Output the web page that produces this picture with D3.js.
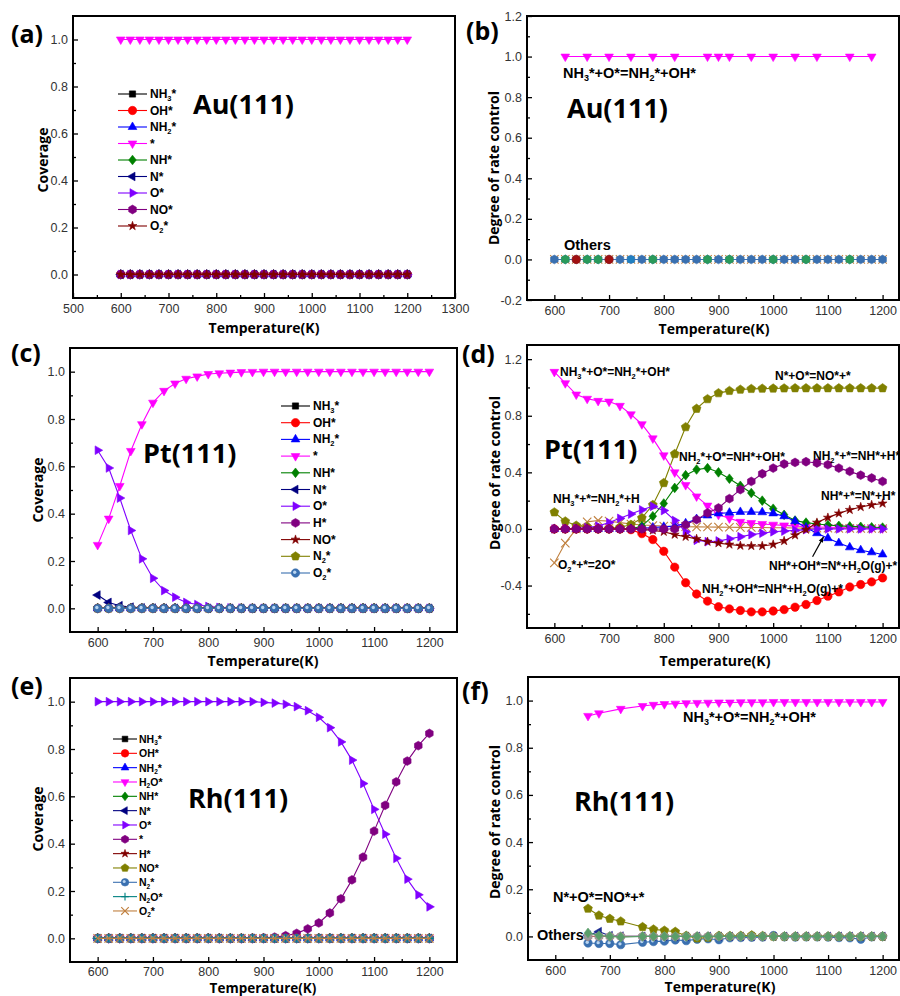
<!DOCTYPE html>
<html><head><meta charset="utf-8">
<script src="https://cdn.jsdelivr.net/npm/d3@7"></script>
<style>body{margin:0;background:#fff}svg{display:block}</style>
</head><body>
<svg id="c" width="900" height="996"></svg>
<script>
// ---------- DATA ----------
const T = [600,620,640,660,680,700,720,740,760,780,800,820,840,860,880,900,920,940,960,980,1000,1020,1040,1060,1080,1100,1120,1140,1160,1180,1200];
const ZERO = [0,0,0,0,0,0,0,0,0,0,0,0,0,0,0,0,0,0,0,0,0,0,0,0,0,0,0,0,0,0,0];
const ONE  = [1,1,1,1,1,1,1,1,1,1,1,1,1,1,1,1,1,1,1,1,1,1,1,1,1,1,1,1,1,1,1];

// (a) Au(111) coverage
const a_free = ONE;

// (b) Au(111) DRC
const b_mainT = [620,660,700,740,780,820,880,900,920,960,1000,1040,1080,1140,1180];
const b_main  = [1,1,1,1,1,1,1,1,1,1,1,1,1,1,1];
const b_greenT = [620,660,680,780,880,920,1000,1060,1140];
const b_green  = [0,0,0,0,0,0,0,0,0];
const b_redT = [640,700];
const b_red  = [0,0];
const b_blueT = [740];
const b_blue  = [0];

// (c) Pt(111) coverage
const c_free = [0.268,0.379,0.517,0.665,0.778,0.869,0.919,0.95,0.97,0.98,0.99,0.993,0.996,0.998,0.999,1,1,1,1,1,1,1,1,1,1,1,1,1,1,1,1];
const c_O    = [0.668,0.593,0.466,0.329,0.209,0.127,0.075,0.047,0.025,0.016,0.008,0.004,0.002,0.001,0,0,0,0,0,0,0,0,0,0,0,0,0,0,0,0,0];
const c_N    = [0.056,0.025,0.011,0.005,0.002,0.001,0,0,0,0,0,0,0,0,0,0,0,0,0,0,0,0,0,0,0,0,0,0,0,0,0];

// (d) Pt(111) DRC
const d_NH3_O   = [1.11,1.03,0.95,0.92,0.905,0.90,0.87,0.81,0.74,0.64,0.52,0.40,0.31,0.23,0.165,0.10,0.075,0.05,0.042,0.035,0.03,0.025,0.02,0.017,0.014,0.012,0.01,0.008,0.006,0.005,0.004];
const d_N_O     = [0.118,0.054,0.024,0.014,0.006,0.005,0.012,0.03,0.078,0.17,0.325,0.53,0.72,0.85,0.918,0.96,0.976,0.985,0.99,0.992,0.993,0.994,0.995,0.995,0.995,0.995,0.995,0.995,0.995,0.995,0.995];
const d_NH2_O   = [0,0,0,0,0,0,0,0,0.02,0.09,0.18,0.29,0.38,0.42,0.43,0.40,0.355,0.305,0.254,0.2,0.143,0.1,0.06,0.045,0.035,0.028,0.022,0.018,0.015,0.012,0.01];
const d_NH2_f   = [0,0,0,0,0,0,0,0,0,0,0,0,0.03,0.066,0.113,0.148,0.214,0.278,0.336,0.39,0.43,0.459,0.47,0.475,0.466,0.454,0.43,0.407,0.38,0.36,0.336];
const d_NH_OH   = [0,0,0,0,0,0,0,0,0.005,0.01,0.015,0.02,0.04,0.07,0.095,0.11,0.115,0.12,0.12,0.118,0.11,0.09,0.055,0.01,-0.03,-0.065,-0.1,-0.13,-0.15,-0.165,-0.18];
const d_NH3_f   = [0,0.002,0.005,0.01,0.02,0.045,0.075,0.105,0.135,0.16,0.13,0.06,-0.02,-0.08,-0.09,-0.085,-0.07,-0.055,-0.04,-0.03,-0.02,-0.015,-0.01,-0.005,0,0,0,0,0,0,0];
const d_NH_f    = [0,0,0,0,0,0,0,0,-0.003,-0.01,-0.02,-0.04,-0.055,-0.07,-0.09,-0.1,-0.11,-0.118,-0.12,-0.12,-0.11,-0.085,-0.045,-0.005,0.045,0.08,0.11,0.135,0.155,0.17,0.18];
const d_NH2_OH  = [0,0,0,0,0,0,0,-0.005,-0.033,-0.075,-0.158,-0.27,-0.38,-0.46,-0.51,-0.55,-0.565,-0.576,-0.586,-0.586,-0.58,-0.57,-0.553,-0.534,-0.506,-0.475,-0.445,-0.41,-0.393,-0.374,-0.346];
const d_O2_f    = [-0.24,-0.1,0.0,0.05,0.06,0.055,0.045,0.035,0.028,0.024,0.02,0.018,0.016,0.015,0.014,0.013,0.012,0.011,0.01,0.01,0.009,0.008,0.007,0.006,0.005,0.005,0.004,0.004,0.003,0.003,0.003];

// (e) Rh(111) coverage
const e_O    = [1,1,1,1,1,1,1,1,1,1,1,1,1,1,1,0.997,0.994,0.989,0.979,0.962,0.934,0.89,0.83,0.753,0.654,0.545,0.44,0.338,0.25,0.184,0.133];
const e_free = [0,0,0,0,0,0,0,0,0,0,0,0,0,0,0.001,0.002,0.005,0.011,0.021,0.04,0.065,0.107,0.167,0.247,0.343,0.453,0.562,0.661,0.749,0.814,0.866];

// (f) Rh(111) DRC
const f_T1 = [660,680,720,760,780,800,820,840,860,880,900,920,940,960,980,1000,1020,1040,1060,1080,1100,1120,1140,1160,1180,1200];
const f_main = [0.935,0.946,0.965,0.977,0.982,0.985,0.987,0.989,0.99,0.991,0.992,0.992,0.993,0.993,0.993,0.994,0.994,0.994,0.994,0.994,0.994,0.994,0.994,0.994,0.994,0.994];
const f_T2 = [660,680,700,720,760,780,800,820,840,860,880,900,920,940,960,980,1000,1020,1040,1060,1080,1100,1120,1140,1160,1180,1200];
const f_NO    = [0.118,0.089,0.075,0.064,0.04,0.03,0.025,0.02,0.003,-0.008,-0.005,0.003,0.002,0.003,0.005,0.002,0,0,0,0,0,0,0,0,0,0,0];
const f_steel = [-0.028,-0.03,-0.03,-0.035,-0.025,-0.022,-0.02,-0.015,-0.018,-0.012,-0.01,-0.014,-0.006,-0.005,-0.004,-0.003,0.004,-0.002,-0.003,-0.002,-0.002,-0.003,-0.005,-0.006,-0.012,-0.002,0];
const f_navy  = [0.005,0.02,0.003,0.001,0,0,0,0,0,0,0,0,0,0,0,0,0,0,0,0,0,0,0,0,0,0,0];
const f_green = [0.015,0.004,0,-0.003,0,0,0,0,0,0,0,0,0,0,0,0,0,0,0,0,0,0,0,0,0,0,0];
const f_zero  = [0,0,0,0,0,0,0,0,0,0,0,0,0,0,0,0,0,0,0,0,0,0,0,0,0,0,0];

// tick values
const ticksX_a = [500,600,700,800,900,1000,1100,1200,1300];
const ticksX_aMinor = [550,650,750,850,950,1050,1150,1250];
const ticksX = [600,700,800,900,1000,1100,1200];
const ticksX_minor = [650,750,850,950,1050,1150];
const ticksY_cov = [0,0.2,0.4,0.6,0.8,1.0];
const ticksY_covMinor = [0.1,0.3,0.5,0.7,0.9];
const ticksY_b = [-0.2,0,0.2,0.4,0.6,0.8,1.0,1.2];
const ticksY_bMinor = [-0.1,0.1,0.3,0.5,0.7,0.9,1.1];
const ticksY_d = [-0.4,0,0.4,0.8,1.2];
const ticksY_dMinor = [-0.6,-0.2,0.2,0.6,1.0];

// ---------- STYLE ----------
const C = {black:'#000000', red:'#ff0000', blue:'#0000ff', mag:'#ff00ff', green:'#008000', navy:'#000080',
  violet:'#8000ff', purple:'#800080', wine:'#800000', olive:'#808000', steel:'#3a70b0', teal:'#008080', brown:'#c0803f'};
const FT = "'Liberation Sans', Arial, sans-serif";
const FO = "'Open Sans', sans-serif";

const svg = d3.select('#c');

function poly(n, r, rot){
  const p=[]; for(let i=0;i<n;i++){const a=rot+2*Math.PI*i/n; p.push([r*Math.cos(a), r*Math.sin(a)]);}
  return 'M'+p.map(q=>q[0].toFixed(2)+','+q[1].toFixed(2)).join('L')+'Z';
}
function markerPath(type, s){
  switch(type){
    case 'square': return poly(4, s*1.05, Math.PI/4);
    case 'circle': case 'sphere': return d3.symbol(d3.symbolCircle, Math.PI*s*s)();
    case 'up': return poly(3, s*1.2, -Math.PI/2);
    case 'down': return poly(3, s*1.2, Math.PI/2);
    case 'left': return poly(3, s*1.2, Math.PI);
    case 'right': return poly(3, s*1.2, 0);
    case 'diamond': return `M0,${-s*1.15}L${s*0.9},0L0,${s*1.15}L${-s*0.9},0Z`;
    case 'hex': return poly(6, s*1.05, -Math.PI/2);
    case 'pent': return poly(5, s*1.1, -Math.PI/2);
    case 'star': return d3.symbol(d3.symbolStar, s*s*1.4)();
    case 'plus': return `M${-s},0H${s}M0,${-s}V${s}`;
    case 'cross': return `M${-s},${-s}L${s},${s}M${-s},${s}L${s},${-s}`;
  }
}
function drawMarker(g, type, color, cx, cy, s){
  const stroke = (type==='plus'||type==='cross');
  g.append('path').attr('d', markerPath(type,s)).attr('transform',`translate(${cx},${cy})`)
    .attr('fill', stroke?'none':color).attr('stroke', color).attr('stroke-width', stroke?1.1:0.6);
  if(type==='sphere'){
    g.append('circle').attr('cx',cx-0.8).attr('cy',cy-0.8).attr('r',s*0.4).attr('fill','#b8d4f0');
  }
}
function rich(g, str, x, y, size, family, anchor){
  const t = g.append('text').attr('x',x).attr('y',y).attr('font-size',size).attr('font-weight','bold')
    .attr('font-family',family).attr('fill','#000').attr('dominant-baseline','central');
  if(anchor) t.attr('text-anchor',anchor);
  let buf=''; const parts=[];
  for(let i=0;i<str.length;i++){
    if(str[i]==='_'){ if(buf) parts.push([buf,false]); buf=''; parts.push([str[i+1],true]); i++; }
    else buf+=str[i];
  }
  if(buf) parts.push([buf,false]);
  const sh = size*0.32;
  let down=false;
  parts.forEach(([s,isSub])=>{
    const ts = t.append('tspan').text(s);
    if(isSub){ ts.attr('font-size',size*0.62).attr('dy', sh); down=true; }
    else if(down){ ts.attr('dy', -sh); down=false; }
  });
  return t;
}

function panel(cfg){
  const x = d3.scaleLinear().domain(cfg.xd).range([cfg.l, cfg.r]);
  const y = d3.scaleLinear().domain(cfg.yd).range([cfg.b, cfg.t]);
  const g = svg.append('g');
  const styleAxis = sel => {
    sel.select('.domain').remove();
    sel.selectAll('.tick line').attr('stroke','#000').attr('stroke-width',1.3);
    sel.selectAll('.tick text').attr('font-family',FT).attr('font-size',12.5).attr('fill','#333');
  };
  g.append('g').attr('transform',`translate(0,${cfg.b})`)
    .call(d3.axisBottom(x).tickValues(cfg.xMaj).tickSize(-5).tickSizeOuter(0).tickPadding(cfg.xpad||6.5).tickFormat(d3.format('d'))).call(styleAxis);
  g.append('g').attr('transform',`translate(0,${cfg.b})`)
    .call(d3.axisBottom(x).tickValues(cfg.xMin).tickSize(-3).tickSizeOuter(0).tickFormat('')).call(styleAxis);
  g.append('g').attr('transform',`translate(${cfg.l},0)`)
    .call(d3.axisLeft(y).tickValues(cfg.yMaj).tickSize(-5).tickSizeOuter(0).tickPadding(5).tickFormat(d=>d.toFixed(1))).call(styleAxis);
  g.append('g').attr('transform',`translate(${cfg.l},0)`)
    .call(d3.axisLeft(y).tickValues(cfg.yMin).tickSize(-3).tickSizeOuter(0).tickFormat('')).call(styleAxis);
  g.append('rect').attr('x',cfg.l).attr('y',cfg.t).attr('width',cfg.r-cfg.l).attr('height',cfg.b-cfg.t)
    .attr('fill','none').attr('stroke','#000').attr('stroke-width',2);

  const line = d3.line().x(d=>x(d[0])).y(d=>y(d[1]));
  cfg.series.forEach(s=>{
    const pts = s.x.map((v,i)=>[v, s.y[i]]);
    if(s.line!==false) g.append('path').attr('d', line(pts)).attr('fill','none').attr('stroke', s.c).attr('stroke-width',1.1);
    const mg = g.append('g');
    pts.forEach(p=>drawMarker(mg, s.m, s.c, x(p[0]), y(p[1]), s.s||4.2));
  });

  if(cfg.legend){
    const L = cfg.legend;
    L.items.forEach((it,i)=>{
      const yy = L.y0 + i*L.dy;
      g.append('line').attr('x1',L.x1).attr('x2',L.x2).attr('y1',yy).attr('y2',yy).attr('stroke',it.c).attr('stroke-width',1.1);
      drawMarker(g, it.m, it.c, (L.x1+L.x2)/2, yy, L.ms);
      rich(g, it.t, L.tx, yy, L.fs, FT);
    });
  }
  (cfg.labels||[]).forEach(lb=> rich(g, lb.t, lb.x, lb.y, lb.fs, lb.f||FT, lb.a));
  // axis titles
  g.append('text').attr('transform',`translate(${cfg.ytx},${cfg.yty}) rotate(-90)`).attr('text-anchor','middle')
    .attr('dominant-baseline','central').attr('font-family',FO).attr('font-weight','bold').attr('font-size',14).text(cfg.ytitle);
  g.append('text').attr('x',cfg.xtx).attr('y',cfg.xty).attr('text-anchor','middle')
    .attr('dominant-baseline','central').attr('font-family',FO).attr('font-weight','bold').attr('font-size',cfg.xfs||14).text('Temperature(K)');
  if(cfg.arrow){
    const A = cfg.arrow;
    const x1=x(A[0]), y1=y(A[1]), x2=x(A[2]), y2=y(A[3]);
    const ang=Math.atan2(y2-y1,x2-x1), h=6;
    g.append('line').attr('x1',x1).attr('y1',y1).attr('x2',x2).attr('y2',y2).attr('stroke','#000').attr('stroke-width',1.2);
    g.append('path').attr('d',`M${x2},${y2}L${x2-h*Math.cos(ang-0.4)},${y2-h*Math.sin(ang-0.4)}L${x2-h*Math.cos(ang+0.4)},${y2-h*Math.sin(ang+0.4)}Z`).attr('fill','#000');
  }
}

const covLegendA = [
  {t:'NH_3*',c:C.black,m:'square'},{t:'OH*',c:C.red,m:'circle'},{t:'NH_2*',c:C.blue,m:'up'},{t:'*',c:C.mag,m:'down'},
  {t:'NH*',c:C.green,m:'diamond'},{t:'N*',c:C.navy,m:'left'},{t:'O*',c:C.violet,m:'right'},{t:'NO*',c:C.purple,m:'hex'},{t:'O_2*',c:C.wine,m:'star'}];
const covLegendC = [
  {t:'NH_3*',c:C.black,m:'square'},{t:'OH*',c:C.red,m:'circle'},{t:'NH_2*',c:C.blue,m:'up'},{t:'*',c:C.mag,m:'down'},
  {t:'NH*',c:C.green,m:'diamond'},{t:'N*',c:C.navy,m:'left'},{t:'O*',c:C.violet,m:'right'},{t:'H*',c:C.purple,m:'hex'},
  {t:'NO*',c:C.wine,m:'star'},{t:'N_2*',c:C.olive,m:'pent'},{t:'O_2*',c:C.steel,m:'sphere'}];
const covLegendE = [
  {t:'NH_3*',c:C.black,m:'square'},{t:'OH*',c:C.red,m:'circle'},{t:'NH_2*',c:C.blue,m:'up'},{t:'H_2O*',c:C.mag,m:'down'},
  {t:'NH*',c:C.green,m:'diamond'},{t:'N*',c:C.navy,m:'left'},{t:'O*',c:C.violet,m:'right'},{t:'*',c:C.purple,m:'hex'},
  {t:'H*',c:C.wine,m:'star'},{t:'NO*',c:C.olive,m:'pent'},{t:'N_2*',c:C.steel,m:'sphere'},{t:'N_2O*',c:C.teal,m:'plus'},{t:'O_2*',c:C.brown,m:'cross'}];

// (a)
panel({l:73,r:455,t:16,b:298,xd:[500,1300],yd:[-0.1,1.1],xMaj:ticksX_a,xMin:ticksX_aMinor,yMaj:ticksY_cov,yMin:ticksY_covMinor,
  series: covLegendA.map(it=>({x:T, y: it.t==='*'?a_free:ZERO, c:it.c, m:it.m})),
  legend:{items:covLegendA,x1:118,x2:147,tx:150,y0:94,dy:16.5,ms:4.2,fs:12},
  labels:[{t:'(a)',x:11,y:33,fs:25,f:FO},{t:'Au(111)',x:193,y:103,fs:27,f:FO}],
  ytitle:'Coverage',ytx:42,yty:160,xtx:264,xty:327});

// (b)
panel({l:527,r:899,t:16,b:300,xd:[550,1230],yd:[-0.2,1.2],xMaj:ticksX,xMin:ticksX_minor,yMaj:ticksY_b,yMin:ticksY_bMinor,
  series:[
    {x:T,y:ZERO,c:C.brown,m:'cross'},
    {x:T,y:ZERO,c:C.steel,m:'hex'},
    {x:b_greenT,y:b_green,c:'#2a9a5a',m:'hex',line:false},
    {x:b_redT,y:b_red,c:'#a01010',m:'circle',line:false},
    {x:b_blueT,y:b_blue,c:'#2080c0',m:'square',line:false},
    {x:b_mainT,y:b_main,c:C.mag,m:'down'}],
  labels:[{t:'(b)',x:466,y:30,fs:25,f:FO},{t:'NH_3*+O*=NH_2*+OH*',x:563,y:73,fs:14.5},{t:'Au(111)',x:567,y:107,fs:27,f:FO},
    {t:'Others',x:564,y:245,fs:14.5}],
  ytitle:'Degree of rate control',ytx:493,yty:168,xtx:714,xty:328});

// (c)
panel({l:70,r:457,t:348,b:632,xd:[550,1250],yd:[-0.1,1.1],xMaj:ticksX,xMin:ticksX_minor,yMaj:ticksY_cov,yMin:ticksY_covMinor,
  series: covLegendC.map(it=>({x:T, y: it.t==='*'?c_free:(it.t==='O*'?c_O:(it.t==='N*'?c_N:ZERO)), c:it.c, m:it.m})),
  legend:{items:covLegendC,x1:281,x2:310,tx:313,y0:406,dy:16.7,ms:4.2,fs:12},
  labels:[{t:'(c)',x:11,y:352,fs:25,f:FO},{t:'Pt(111)',x:143,y:452,fs:27,f:FO}],
  ytitle:'Coverage',ytx:37,yty:490,xtx:263,xty:660});

// (d)
panel({l:527,r:899,t:345,b:628,xd:[550,1230],yd:[-0.7,1.3],xMaj:ticksX,xMin:ticksX_minor,yMaj:ticksY_d,yMin:ticksY_dMinor,
  series:[
    {x:T,y:d_O2_f,c:C.brown,m:'cross'},
    {x:T,y:d_N_O,c:C.olive,m:'pent'},
    {x:T,y:d_NH3_O,c:C.mag,m:'down'},
    {x:T,y:d_NH2_O,c:C.green,m:'diamond'},
    {x:T,y:d_NH_OH,c:C.blue,m:'up'},
    {x:T,y:d_NH3_f,c:C.violet,m:'right'},
    {x:T,y:d_NH2_OH,c:C.red,m:'circle'},
    {x:T,y:d_NH_f,c:C.wine,m:'star'},
    {x:T,y:d_NH2_f,c:C.purple,m:'hex'}],
  labels:[{t:'(d)',x:462,y:353,fs:25,f:FO},{t:'Pt(111)',x:544,y:448,fs:27,f:FO},
    {t:'NH_3*+O*=NH_2*+OH*',x:560,y:372,fs:12},{t:'N*+O*=NO*+*',x:775,y:376,fs:12},
    {t:'NH_2*+O*=NH*+OH*',x:679,y:457,fs:12},{t:'NH_2*+*=NH*+H*',x:813,y:456,fs:12},
    {t:'NH_3*+*=NH_2*+H',x:553,y:499,fs:12},{t:'NH*+*=N*+H*',x:821,y:496,fs:12},
    {t:'O_2*+*=2O*',x:558,y:565,fs:12},{t:'NH*+OH*=N*+H_2O(g)+*',x:769,y:566,fs:12},
    {t:'NH_2*+OH*=NH*+H_2O(g)+*',x:702,y:589,fs:12}],
  arrow:[1072,-0.197,1092,-0.056],
  ytitle:'Degree of rate control',ytx:494,yty:473,xtx:715,xty:660});

// (e)
panel({l:70,r:457,t:678,b:962,xd:[550,1250],yd:[-0.1,1.1],xMaj:ticksX,xMin:ticksX_minor,yMaj:ticksY_cov,yMin:ticksY_covMinor,xpad:5,
  series: covLegendE.map(it=>({x:T, y: it.t==='O*'?e_O:(it.t==='*'?e_free:ZERO), c:it.c, m:it.m})),
  legend:{items:covLegendE,x1:113,x2:137,tx:139,y0:739,dy:14.33,ms:3.8,fs:10.5},
  labels:[{t:'(e)',x:11,y:685,fs:25,f:FO},{t:'Rh(111)',x:188,y:797,fs:27,f:FO}],
  ytitle:'Coverage',ytx:37,yty:819,xtx:263,xty:988,xfs:13.5});

// (f)
panel({l:528,r:899,t:677,b:960,xd:[550,1230],yd:[-0.1,1.1],xMaj:ticksX,xMin:ticksX_minor,yMaj:ticksY_cov,yMin:ticksY_covMinor,
  series:[
    {x:f_T2,y:f_steel,c:C.steel,m:'sphere'},
    {x:f_T2,y:f_navy,c:'#1a2a90',m:'left'},
    {x:f_T2,y:f_zero,c:'#b86a6a',m:'hex'},
    {x:f_T2,y:f_NO,c:C.olive,m:'pent'},
    {x:f_T2,y:f_zero,c:'#9a9a9a',m:'hex',line:false},
    {x:f_T2,y:f_green,c:'#5a9e6a',m:'diamond'},
    {x:f_T1,y:f_main,c:C.mag,m:'down'}],
  labels:[{t:'(f)',x:462,y:690,fs:25,f:FO},{t:'Rh(111)',x:574,y:800,fs:27,f:FO},
    {t:'NH_3*+O*=NH_2*+OH*',x:683,y:717,fs:14.5},{t:'N*+O*=NO*+*',x:553,y:897,fs:14.5},{t:'Others',x:537,y:935,fs:14.5}],
  ytitle:'Degree of rate control',ytx:494,yty:822,xtx:720,xty:986});
</script>
</body></html>
